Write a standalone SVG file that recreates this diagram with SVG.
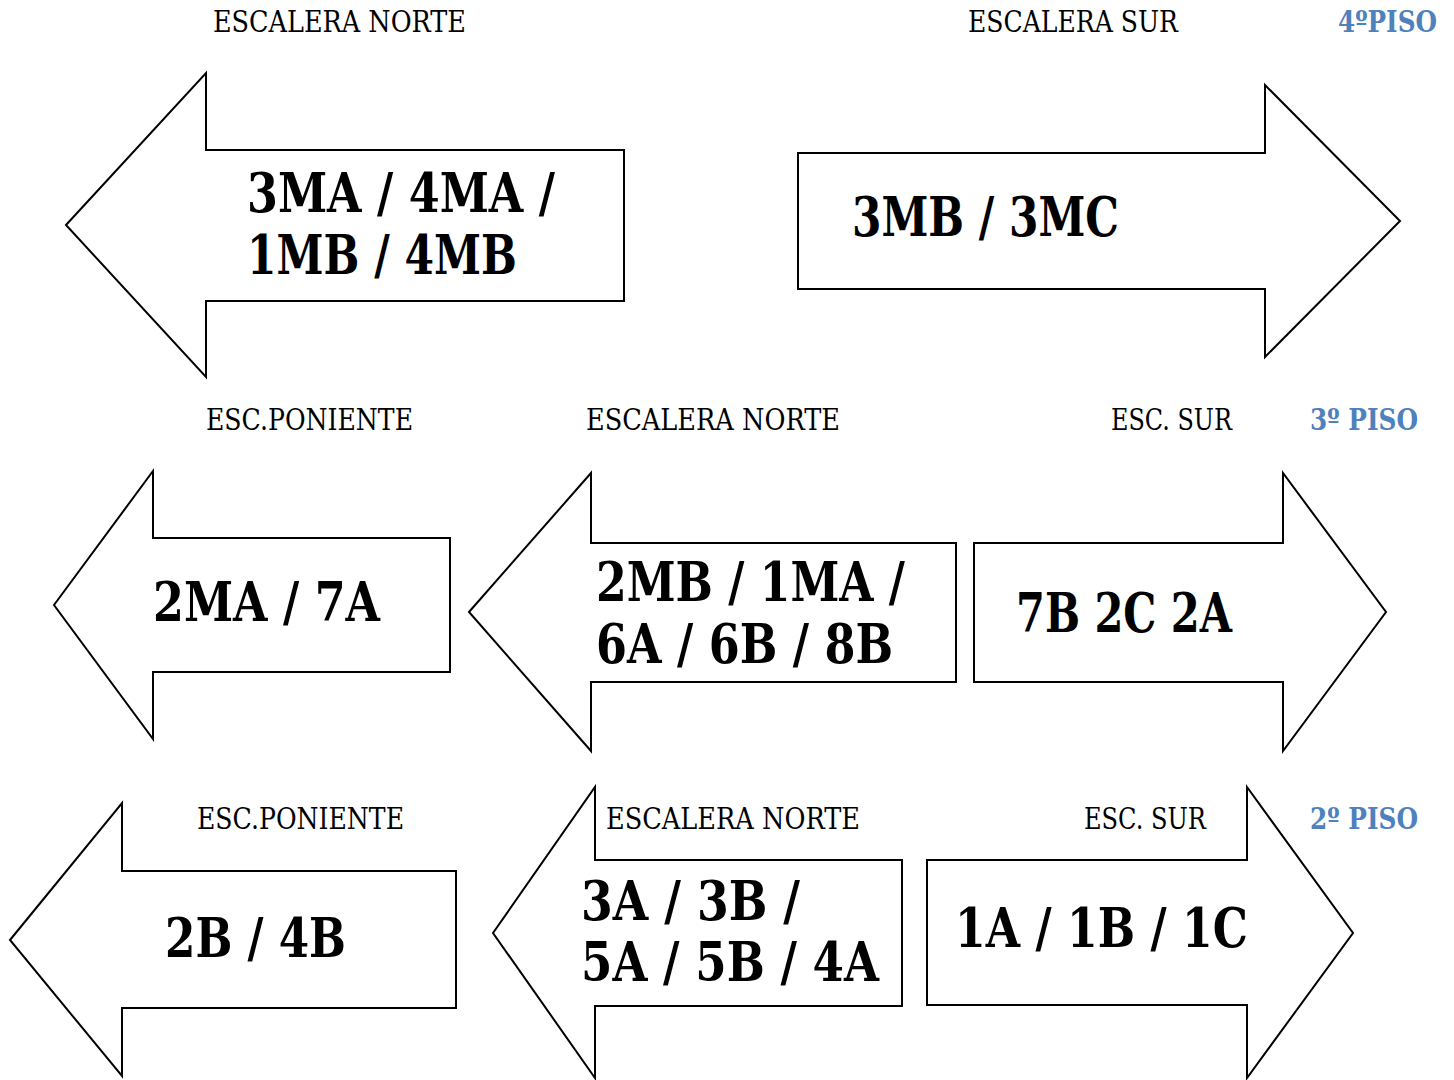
<svg xmlns="http://www.w3.org/2000/svg" width="1454" height="1080" viewBox="0 0 1454 1080">
<style>
.arrow{fill:#fff;stroke:#000;stroke-width:2;stroke-linejoin:miter}
.lbl{font-family:"DejaVu Serif","Liberation Serif",serif;font-size:30px;fill:#000}
.big{font-family:"DejaVu Serif","Liberation Serif",serif;font-size:54px;font-weight:bold;fill:#000}
.piso{font-family:"DejaVu Serif","Liberation Serif",serif;font-size:30px;font-weight:bold;fill:#4F81BD}
</style>
<rect width="1454" height="1080" fill="#fff"/>
<g id="labels">
<text class="lbl" x="213" y="32" textLength="253" lengthAdjust="spacingAndGlyphs">ESCALERA NORTE</text>
<text class="lbl" x="968" y="32" textLength="210" lengthAdjust="spacingAndGlyphs">ESCALERA SUR</text>
<text class="piso" x="1338" y="32" textLength="99" lengthAdjust="spacingAndGlyphs">4ºPISO</text>
<text class="lbl" x="206" y="430" textLength="207" lengthAdjust="spacingAndGlyphs">ESC.PONIENTE</text>
<text class="lbl" x="586" y="430" textLength="254" lengthAdjust="spacingAndGlyphs">ESCALERA NORTE</text>
<text class="lbl" x="1111" y="430" textLength="121" lengthAdjust="spacingAndGlyphs">ESC. SUR</text>
<text class="piso" x="1310" y="430" textLength="108" lengthAdjust="spacingAndGlyphs">3º PISO</text>
<text class="lbl" x="197" y="829" textLength="207" lengthAdjust="spacingAndGlyphs">ESC.PONIENTE</text>
<text class="lbl" x="1084" y="829" textLength="122" lengthAdjust="spacingAndGlyphs">ESC. SUR</text>
<text class="piso" x="1310" y="829" textLength="108" lengthAdjust="spacingAndGlyphs">2º PISO</text>
</g>
<g id="arrow-4-norte">
<polygon class="arrow" points="66,225 206,73 206,150 624,150 624,301 206,301 206,377"/>
<text class="big" x="247" y="212" textLength="308" lengthAdjust="spacingAndGlyphs">3MA / 4MA /</text>
<text class="big" x="247" y="274" textLength="270" lengthAdjust="spacingAndGlyphs">1MB / 4MB</text>
</g>
<g id="arrow-4-sur">
<polygon class="arrow" points="798,153 1265,153 1265,85 1400,221 1265,357 1265,289 798,289"/>
<text class="big" x="852" y="236" textLength="267" lengthAdjust="spacingAndGlyphs">3MB / 3MC</text>
</g>
<g id="arrow-3-poniente">
<polygon class="arrow" points="54,605 153,471 153,538 450,538 450,672 153,672 153,739"/>
<text class="big" x="153" y="621" textLength="227" lengthAdjust="spacingAndGlyphs">2MA / 7A</text>
</g>
<g id="arrow-3-norte">
<polygon class="arrow" points="469,612 591,473 591,543 956,543 956,682 591,682 591,751"/>
<text class="big" x="596" y="601" textLength="309" lengthAdjust="spacingAndGlyphs">2MB / 1MA /</text>
<text class="big" x="596" y="663" textLength="297" lengthAdjust="spacingAndGlyphs">6A / 6B / 8B</text>
</g>
<g id="arrow-3-sur">
<polygon class="arrow" points="974,543 1283,543 1283,473 1386,612 1283,751 1283,682 974,682"/>
<text class="big" x="1016" y="632" textLength="216" lengthAdjust="spacingAndGlyphs">7B 2C 2A</text>
</g>
<g id="arrow-2-poniente">
<polygon class="arrow" points="10,940 122,803 122,871 456,871 456,1008 122,1008 122,1076"/>
<text class="big" x="165" y="957" textLength="181" lengthAdjust="spacingAndGlyphs">2B / 4B</text>
</g>
<g id="arrow-2-norte">
<polygon class="arrow" points="493,933 595,787 595,860 902,860 902,1006 595,1006 595,1078"/>
<text class="lbl" x="606" y="829" textLength="254" lengthAdjust="spacingAndGlyphs">ESCALERA NORTE</text>
<text class="big" x="581" y="920" textLength="219" lengthAdjust="spacingAndGlyphs">3A / 3B /</text>
<text class="big" x="581" y="981" textLength="298" lengthAdjust="spacingAndGlyphs">5A / 5B / 4A</text>
</g>
<g id="arrow-2-sur">
<polygon class="arrow" points="927,860 1247,860 1247,787 1353,933 1247,1078 1247,1005 927,1005"/>
<text class="big" x="955" y="947" textLength="293" lengthAdjust="spacingAndGlyphs">1A / 1B / 1C</text>
</g>
<g id="connectors"/>
</svg>
